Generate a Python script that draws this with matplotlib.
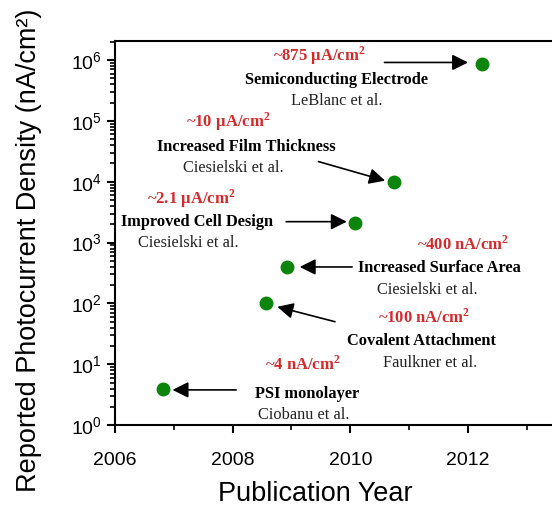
import matplotlib
matplotlib.use("Agg")
import numpy as np
import matplotlib.pyplot as plt
from matplotlib.ticker import LogLocator, MultipleLocator, FixedLocator

plt.rcParams['font.family'] = ['Liberation Sans', 'DejaVu Sans']
plt.rcParams['mathtext.fontset'] = 'custom'
plt.rcParams['mathtext.rm'] = 'Liberation Sans'
plt.rcParams['mathtext.it'] = 'Liberation Sans'
plt.rcParams['mathtext.bf'] = 'Liberation Serif:bold'

# data: publication year vs. reported photocurrent density (nA/cm^2)
years = [2006.82, 2008.57, 2008.92, 2010.08, 2010.75, 2012.23]
current = [4, 100, 400, 2100, 10000, 875000]

# annotation texts, one entry per point above
values = ["~4 nA/cm$^{\\mathbf{2}}$", "~100 nA/cm$^{\\mathbf{2}}$", "~400 nA/cm$^{\\mathbf{2}}$",
          "~2.1 µA/cm$^{\\mathbf{2}}$", "~10 µA/cm$^{\\mathbf{2}}$", "~875 µA/cm$^{\\mathbf{2}}$"]
titles = ["PSI monolayer", "Covalent Attachment", "Increased Surface Area",
          "Improved Cell Design", "Increased Film Thickness", "Semiconducting Electrode"]
authors = ["Ciobanu et al.", "Faulkner et al.", "Ciesielski et al.",
           "Ciesielski et al.", "Ciesielski et al.", "LeBlanc et al."]

# text placement (x in years, y as log10) : value line, title line, author line
value_pos = [(2009.19, 1.0), (2011.25, 1.775), (2011.91, 2.975),
             (2007.30, 3.716), (2007.92, 4.982), (2009.48, 6.068)]
title_pos = [(2009.26, 0.516), (2011.21, 1.387), (2011.52, 2.587),
             (2007.39, 3.344), (2008.23, 4.577), (2009.77, 5.679)]
author_pos = [(2009.21, 0.17), (2011.35, 1.025), (2011.31, 2.225),
              (2007.25, 2.998), (2008.01, 4.232), (2009.77, 5.334)]
# arrows: tail and tip (x in years, y as log10)
arrow_tail = [(2008.06, 0.58), (2009.74, 1.70), (2010.03, 2.60),
              (2008.91, 3.344), (2009.46, 4.331), (2010.58, 5.96)]
arrow_tip = [(2006.98, 0.58), (2008.76, 1.946), (2009.14, 2.60),
             (2009.94, 3.344), (2010.59, 4.018), (2012.00, 5.96)]

fig = plt.figure(figsize=(5.52, 5.08), dpi=100)
ax = fig.add_axes([0.208, 0.163, 0.80, 0.756])

ax.plot(years, current, 'o', color='#0b850b', markersize=9, zorder=3)

ax.set_yscale('log')
ax.set_ylim(1, 10 ** 6.31)
ax.set_xlim(2006, 2013.5)

red = '#d42a2a'
for i in range(len(years)):
    vx, vy = value_pos[i]
    ax.text(vx, 10 ** vy, values[i], color=red, fontsize=12, fontweight='bold',
            family='Liberation Serif', ha='center', va='center')
    tx, ty = title_pos[i]
    ax.text(tx, 10 ** ty, titles[i], color='black', fontsize=11.8, fontweight='bold',
            family='Liberation Serif', ha='center', va='center')
    axx, ay = author_pos[i]
    ax.text(axx, 10 ** ay, authors[i], color='#222222', fontsize=11.8,
            family='Liberation Serif', ha='center', va='center')
    x0, y0 = arrow_tail[i]
    x1, y1 = arrow_tip[i]
    ax.annotate('', xy=(x1, 10 ** y1), xytext=(x0, 10 ** y0),
                arrowprops=dict(arrowstyle='-|>', mutation_scale=24, lw=1.2,
                                color='black', shrinkA=0, shrinkB=0))

ax.yaxis.set_major_locator(LogLocator(base=10, numticks=10))
ax.yaxis.set_minor_locator(LogLocator(base=10, subs=np.arange(2, 10), numticks=10))
ax.xaxis.set_major_locator(FixedLocator([2006, 2008, 2010, 2012]))
ax.xaxis.set_minor_locator(MultipleLocator(1))

ax.tick_params(which='major', direction='out', length=6, width=1.5, labelsize=14)
ax.tick_params(which='minor', direction='out', length=3.5, width=1.2)
ax.tick_params(axis='x', which='major', pad=13)

for s in ['left', 'bottom', 'top']:
    ax.spines[s].set_linewidth(1.5)
ax.spines['right'].set_visible(False)

ax.set_xlabel('Publication Year', fontsize=19.5)
ax.set_ylabel('Reported Photocurrent Density (nA/cm²)', fontsize=19.5)
ax.xaxis.set_label_coords(0.455, -0.145)
ax.yaxis.set_label_coords(-0.165, 0.455)

fig.savefig('out.png', dpi=100)
